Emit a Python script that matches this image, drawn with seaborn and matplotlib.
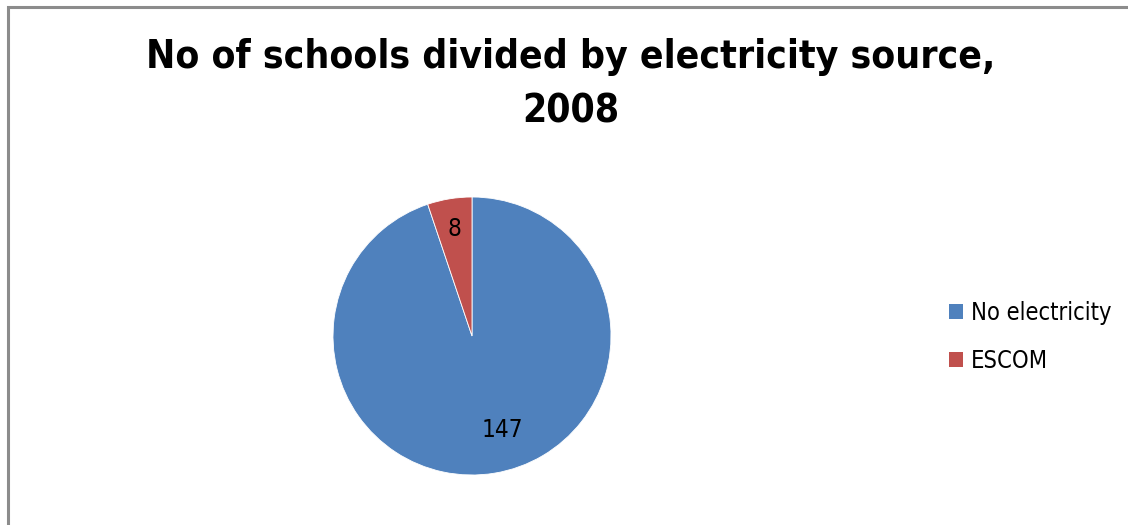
import matplotlib
matplotlib.use("Agg")
import matplotlib.pyplot as plt
from matplotlib.patches import Rectangle, Patch
import seaborn as sns
import numpy as np

# Schools by electricity source, 2008
categories = ["No electricity", "ESCOM"]
school_counts = [147, 8]
slice_colors = ["#4F81BD", "#C0504D"]
title_text = "No of schools divided by electricity source,\n2008"

sns.set_theme(style="white")
plt.rcParams["font.family"] = ["DejaVu Sans"]
plt.rcParams["font.stretch"] = "condensed"
plt.rcParams["text.color"] = "black"

W, H = 1128, 525
fig = plt.figure(figsize=(W / 100, H / 100), dpi=100)
fig.patch.set_facecolor("white")

# chart-area border (runs off the right and bottom edges)
fig.add_artist(Rectangle((7.5 / W, -0.1), 1.2, (H - 7.5) / H + 0.1,
                         transform=fig.transFigure, fill=False,
                         edgecolor="#8c8c8c", linewidth=2.2))

# pie plot area
cx, cy, r = 472, 336, 139
ax = fig.add_axes([(cx - r) / W, (H - cy - r) / H, 2 * r / W, 2 * r / H])
wedges, texts, autotexts = ax.pie(
    school_counts,
    colors=slice_colors,
    startangle=90,
    counterclock=False,
    radius=1.0,
    autopct=lambda p: f"{p * sum(school_counts) / 100:.0f}",
    pctdistance=0.78,
    wedgeprops=dict(edgecolor="white", linewidth=0.6),
    textprops=dict(fontsize=17.5, color="black"),
)
ax.set_xlim(-1, 1)
ax.set_ylim(-1, 1)
ax.set_aspect("equal")
ax.axis("off")

# place the large-slice value label slightly inward, toward its lower side
w0 = wedges[0]
ang = np.deg2rad(w0.theta1 + (w0.theta2 - w0.theta1) * 0.526)
autotexts[0].set_position((0.71 * np.cos(ang), 0.71 * np.sin(ang)))

fig.text(571 / W, 1 - 84 / H, title_text, ha="center", va="center",
         fontsize=28, fontweight="bold", linespacing=1.54)

handles = [Patch(facecolor=c, edgecolor="none") for c in slice_colors]
fig.legend(handles, categories, loc="center left",
           bbox_to_anchor=(937 / W, 1 - 337 / H), frameon=False,
           fontsize=17, handlelength=0.6, handleheight=0.6,
           handletextpad=0.35, labelspacing=1.0, borderpad=0)

fig.savefig("out.png", dpi=100, facecolor="white")
